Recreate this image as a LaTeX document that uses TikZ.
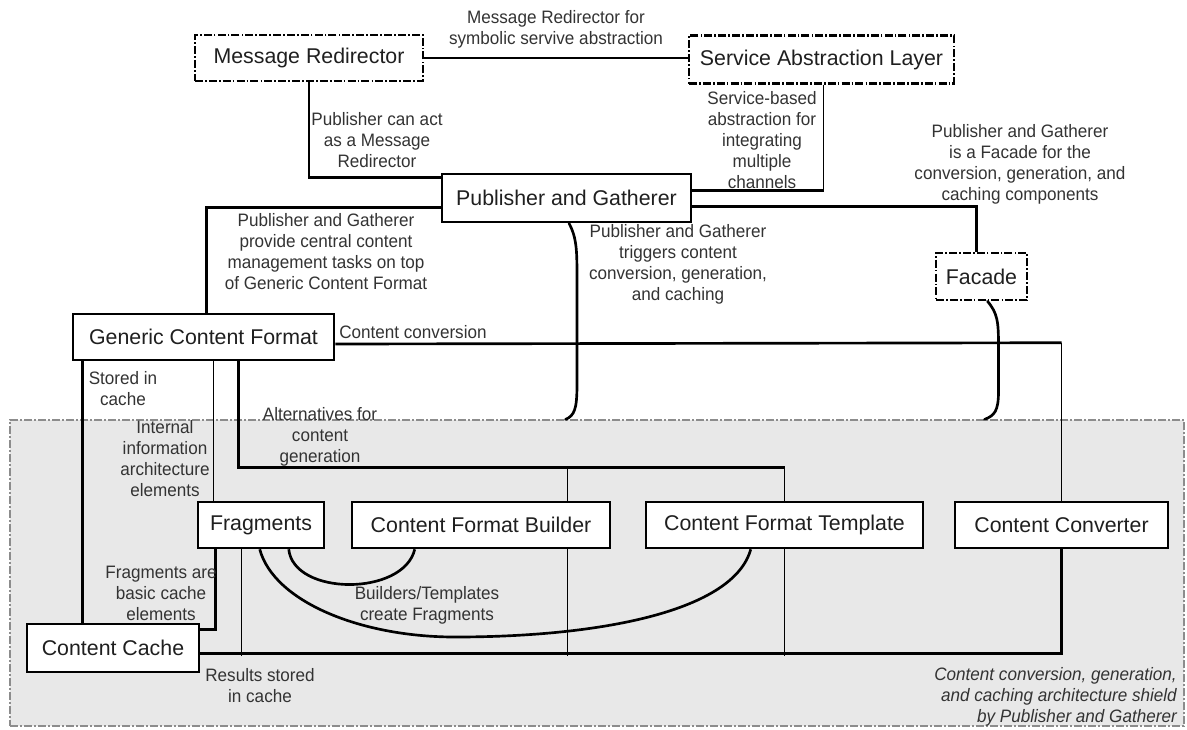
\documentclass[tikz,border=0pt]{standalone}
\usepackage{fontspec}
\setmainfont{Liberation Sans}
\newfontfamily\lblfont[FakeStretch=0.95]{Liberation Sans}
\usetikzlibrary{calc}
\begin{document}
\begin{tikzpicture}[x=0.75pt,y=-0.75pt,
  box/.style={draw=black, fill=white, line width=1.9pt, inner sep=0pt,
    font=\fontsize{16}{19}\selectfont, text=black!88},
  ddbox/.style={box, dash pattern=on 6pt off 1.6pt on 1.2pt off 1.6pt},
  lbl/.style={font=\lblfont\fontsize{13.5}{15.75}\selectfont, align=center,
    inner sep=0pt, text=black!80},
  heavy/.style={line width=2pt},
  light/.style={line width=1pt},
  shieldzone/.style={draw=black!45, fill=black!9, line width=0.8pt,
    dash pattern=on 6pt off 1.5pt on 1.5pt off 1.5pt, inner sep=0pt},
]
\useasboundingbox (0,0) rectangle (1187,729);
\fill[white] (0,0) rectangle (1187,729);

% shielded area
\node[shieldzone, minimum width=880.5pt, minimum height=229.5pt] (shield) at (597,573) {};

% components
\node[ddbox, minimum width=171pt, minimum height=34.5pt] (mr) at (309,58) {Message Redirector};
\node[ddbox, minimum width=198.75pt, minimum height=36pt] (sal) at (821.5,59.5) {Service Abstraction Layer};
\node[box, minimum width=186.75pt, minimum height=36pt] (pg) at (566.5,198) {Publisher and Gatherer};
\node[ddbox, minimum width=68.25pt, minimum height=35.25pt] (facade) at (981.5,276.5) {Facade};
\node[box, minimum width=195.75pt, minimum height=34.5pt] (gcf) at (203.5,337) {Generic Content Format};
\node[box, minimum width=94.5pt, minimum height=34.5pt] (frag) at (261,525) {Fragments};
\node[box, minimum width=193.5pt, minimum height=34.5pt] (cfb) at (481,525) {Content Format Builder};
\node[box, minimum width=207.75pt, minimum height=34.5pt] (cft) at (784.5,525) {Content Format Template};
\node[box, minimum width=159.75pt, minimum height=34.5pt] (cconv) at (1061.5,525) {Content Converter};
\node[box, minimum width=129pt, minimum height=36pt] (ccache) at (113,648) {Content Cache};

% upper connectors
\draw[heavy] (mr.east) -- (mr.east -| sal.west);
\draw[heavy] (mr.south) |- ($(pg.north west)+(0,5)$);
\coordinate (salj) at ($(sal.south west)+(136,105.5)$);
\draw[light] ($(sal.south west)+(136,0)$) -- (salj);
\draw[heavy] (salj) -- (salj -| pg.east);
\draw[heavy] ($(pg.north west)+(0,35)$) -| ($(gcf.north west)+(135,0)$);
\draw[heavy] ($(pg.north east)+(0,34)$) -| ($(facade.north west)+(42,0)$);

% braces into the shielded area
\draw[heavy, line cap=round] ($(pg.south)+(2.5,0)$) .. controls +(8,15) and +(0,-30) .. ++(8,58)
  -- ++(0,103) .. controls +(0,25) and +(9,-4) .. ($(shield.north west)+(556,0)$);
\draw[heavy, line cap=round] ($(facade.south)+(6,0)$) .. controls +(10,12) and +(0,-25) .. ++(11,45)
  -- ++(0,45) .. controls +(0,20) and +(10,-4) .. ($(shield.north west)+(975,0)$);

% content conversion
\coordinate (ccj) at ($(cconv.north)+(0,-158)$);
\draw[heavy] ($(gcf.east)+(0,7)$) -- (ccj);
\draw[light] (ccj) -- (cconv.north);

% links below the generic content format
\draw[heavy] ($(gcf.south west)+(11,0)$) -- ($(ccache.north west)+(57,0)$);
\draw[light] ($(gcf.south west)+(142,0)$) -- ($(frag.north west)+(17,0)$);
\coordinate (altj) at ($(cft.north)+(0,-33)$);
\draw[heavy] ($(gcf.south west)+(167,0)$) |- (altj);
\draw[light] (altj) -- (cft.north);
\draw[light] ($(cfb.north west)+(217,-33)$) -- ($(cfb.north west)+(217,0)$);

% cache links
\draw[heavy] ($(frag.south west)+(19,0)$) |- ($(ccache.north east)+(0,7)$);
\draw[heavy] ($(ccache.north east)+(0,31)$) -| (cconv.south);
\draw[light] ($(frag.south west)+(45,0)$) -- +(0,107);
\draw[light] ($(cfb.south west)+(217,0)$) -- +(0,107);
\draw[light] (cft.south) -- +(0,107);

% builders/templates create fragments
\draw[heavy] ($(frag.south west)+(92,0)$) .. controls +(5,47) and +(-11,47) .. ($(cfb.south west)+(64,0)$);
\coordinate (low) at (455,637);
\draw[heavy] ($(frag.south west)+(63,0)$) .. controls +(14,52) and +(-95,0) .. (low)
  .. controls +(145,0) and +(-17,62) .. ($(cft.south west)+(106,0)$);

% labels
\node[lbl] (l1) at (556,29) {Message Redirector for\\symbolic servive abstraction};
\node[lbl] (l2) at (377,140) {Publisher can act\\as a Message\\Redirector};
\node[lbl] (l3) at (762,140) {Service-based\\abstraction for\\integrating\\multiple\\channels};
\node[lbl] (l4) at (1020,164) {Publisher and Gatherer\\is a Facade for the\\conversion, generation, and\\caching components};
\node[lbl] (l5) at (326,252) {Publisher and Gatherer\\provide central content\\management tasks on top\\of Generic Content Format};
\node[lbl] (l6) at (678,264) {Publisher and Gatherer\\triggers content\\conversion, generation,\\and caching};
\node[lbl, anchor=west] (l7) at (339,332) {Content conversion};
\node[lbl] (l8) at (123,389) {Stored in\\cache};
\node[lbl] (l9) at (165,459) {Internal\\information\\architecture\\elements};
\node[lbl] (l10) at (320,437) {Alternatives for\\content\\generation};
\node[lbl] (l11) at (161,593) {Fragments are\\basic cache\\elements};
\node[lbl] (l12) at (427,605) {Builders/Templates\\create Fragments};
\node[lbl] (l13) at (260,686) {Results stored\\in cache};
\node[lbl, align=right, anchor=east, font=\lblfont\itshape\fontsize{13.5}{15.75}\selectfont] (l14) at (1177,697)
  {Content conversion, generation,\\and caching architecture shield\\by Publisher and Gatherer};
\end{tikzpicture}
\end{document}
